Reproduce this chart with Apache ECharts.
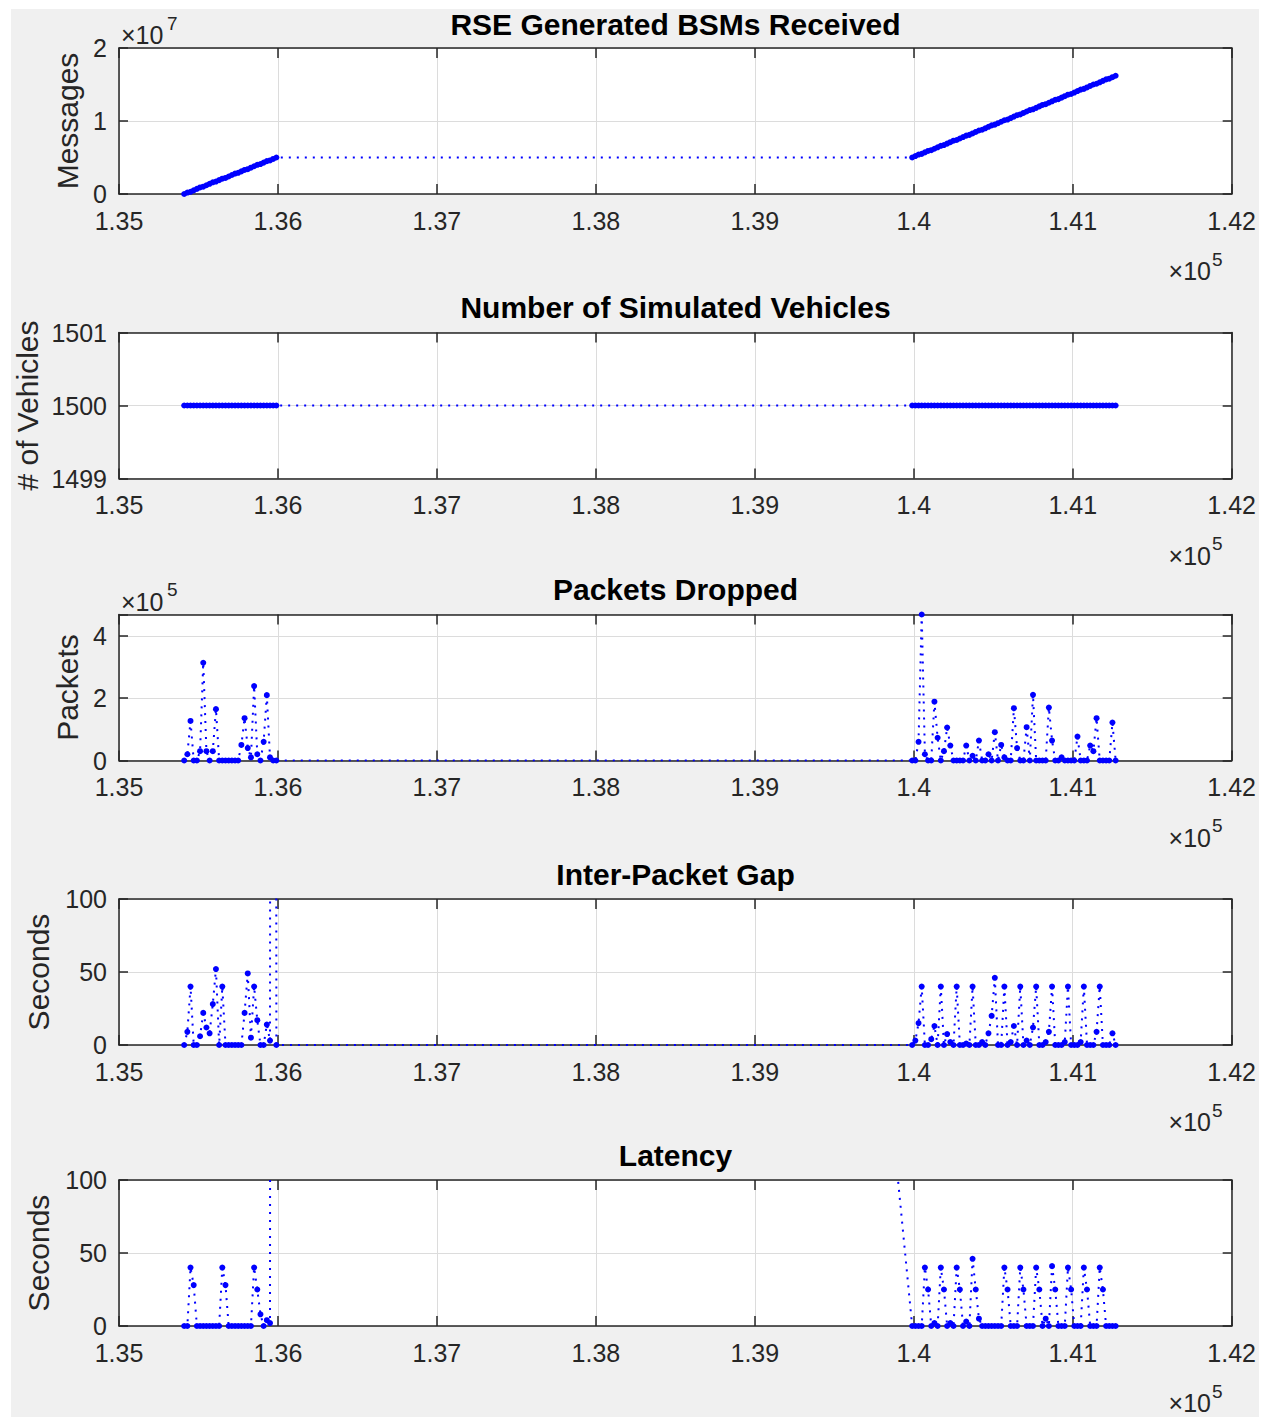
<!DOCTYPE html>
<html><head><meta charset="utf-8">
<script src="https://cdn.jsdelivr.net/npm/echarts@6/dist/echarts.min.js"></script>
<style>
html,body{margin:0;padding:0;background:#fff;width:1270px;height:1418px;overflow:hidden}
#chart{position:absolute;left:11px;top:9px;width:1248px;height:1408px}
</style></head><body><div id="chart"></div>
<script>
// ---- DATA ----
// time stamps (s) of the first and second run
const timesA = [135410,135430,135450,135470,135490,135510,135530,135550,135570,135590,135610,135630,135650,135670,135690,135710,135730,135750,135770,135790,135810,135830,135850,135870,135890,135910,135930,135950,135970,135990];
const timesB = [139990,140010,140030,140050,140070,140090,140110,140130,140150,140170,
  140190,140210,140230,140250,140270,140290,140310,140330,140350,140370,
  140390,140410,140430,140450,140470,140490,140510,140530,140550,140570,
  140590,140610,140630,140650,140670,140690,140710,140730,140750,140770,
  140790,140810,140830,140850,140870,140890,140910,140930,140950,140970,
  140990,141010,141030,141050,141070,141090,141110,141130,141150,141170,
  141190,141210,141230,141250,141270];

// RSE generated BSMs received (x 10^7 messages)
const bsmA = [0.00,0.02,0.03,0.05,0.07,0.09,0.10,0.12,0.14,0.16,0.17,0.19,0.21,0.22,0.24,0.26,0.28,0.29,0.31,0.33,0.34,0.36,0.38,0.40,0.41,0.43,0.45,0.46,0.48,0.50];
const bsmB = [0.50,0.52,0.54,0.55,0.57,0.59,0.60,0.62,0.64,0.66,
  0.67,0.69,0.71,0.73,0.74,0.76,0.78,0.80,0.81,0.83,
  0.85,0.87,0.88,0.90,0.92,0.94,0.95,0.97,0.99,1.01,
  1.02,1.04,1.06,1.08,1.09,1.11,1.13,1.15,1.16,1.18,
  1.20,1.22,1.23,1.25,1.27,1.29,1.30,1.32,1.34,1.36,
  1.37,1.39,1.41,1.43,1.44,1.46,1.48,1.50,1.51,1.53,
  1.55,1.57,1.58,1.60,1.62];

// number of simulated vehicles
const vehiclesA = [1500,1500,1500,1500,1500,1500,1500,1500,1500,1500,1500,1500,1500,1500,1500,1500,1500,1500,1500,1500,1500,1500,1500,1500,1500,1500,1500,1500,1500,1500];
const vehiclesB = [1500,1500,1500,1500,1500,1500,1500,1500,1500,1500,
  1500,1500,1500,1500,1500,1500,1500,1500,1500,1500,
  1500,1500,1500,1500,1500,1500,1500,1500,1500,1500,
  1500,1500,1500,1500,1500,1500,1500,1500,1500,1500,
  1500,1500,1500,1500,1500,1500,1500,1500,1500,1500,
  1500,1500,1500,1500,1500,1500,1500,1500,1500,1500,
  1500,1500,1500,1500,1500];

// packets dropped (x 10^5 packets)
const droppedA = [0,0.2,1.27,0,0,0.3,3.14,0.3,0,0.3,1.65,0,0,0,0,0,0,0,0.5,1.36,0.4,0.1,2.39,0.2,0,0.6,2.1,0.1,0,0];
const droppedB = [0,0,0.6,4.69,0.2,0,0,1.89,0.73,0,
  0.3,1.06,0.48,0,0,0,0,0.48,0,0.15,
  0,0.64,0,0,0.2,0,0.91,0,0.5,0.1,
  0,0,1.68,0.4,0,0,1.07,0,2.11,0,
  0,0,0,1.7,0.64,0,0,0.1,0,0,
  0,0,0.77,0,0,0,0.48,0.3,1.36,0,
  0,0,0,1.22,0];

// inter-packet gap (s)
const gapA = [0,9,40,0,0,6,22,12,8,28,52,0,40,0,0,0,0,0,0,22,49,5,40,17,0,0,14,3,4000,0];
const gapB = [0,3,15,40,0,0,4,13,0,40,
  0,7.5,2,0,40,0,0,1,0,40,
  0,0,2,0,8,20,46,0,0,40,
  0,2,13,0,40,0,3,0,12,40,
  0,0,2,9,40,0,0,0,2,40,
  0,0,0,2,40,0,0,0,9,40,
  0,0,0,8,0];

// latency (s)
const latencyA = [0,0,40,28,0,0,0,0,0,0,0,0,40,28,0,0,0,0,0,0,0,0,40,25,8,0,4,2,4490,4490];
const latencyB = [0,0,0,0,40,25,0,2,0,40,
  25,0,2,0,40,25,0,3,0,46,
  25,5,0,0,0,0,0,0,0,40,
  25,0,0,0,40,25,0,0,0,40,
  25,0,5,0,41,25,0,0,0,40,
  25,0,0,0,40,25,0,0,0,40,
  25,0,0,0,0];

const titles = ['RSE Generated BSMs Received','Number of Simulated Vehicles','Packets Dropped','Inter-Packet Gap','Latency'];
const yNames = ['Messages','# of Vehicles','Packets','Seconds','Seconds'];
const yMins = [0,1499,0,0,0];
const yMaxs = [2,1501,4.69,100,100];
const yIntervals = [1,1,2,50,50];
const xMin = 135000, xMax = 142000, xInterval = 1000;
const yExponents = ['7', null, '5', null, null];
const xExponent = '5';

// ---- LAYOUT ----
const OX = 11, OY = 9;
const PLOT_LEFT = 119, PLOT_W = 1113, PLOT_H = 146;
const PLOT_TOPS = [48, 332.5, 614.5, 899, 1180];
const YNAME_X = [67, 27, 67, 38, 38];
const FONT = '"Liberation Sans", Arial, Helvetica, sans-serif';
const AX = '#262626';
const BLUE = '#0000ff';

const seriesVals = [[bsmA,bsmB],[vehiclesA,vehiclesB],[droppedA,droppedB],[gapA,gapB],[latencyA,latencyB]];

const grids = [], xAxes = [], yAxes = [], series = [], graphics = [];
function txt(x, y, s, size, opt) {
  opt = opt || {};
  graphics.push({
    type: 'text', x: x - OX, y: y - OY, rotation: opt.rot || 0, z: 100,
    style: { text: s, fill: opt.color || AX, fontSize: size, fontFamily: FONT,
      fontWeight: opt.bold ? 'bold' : 'normal', align: opt.align || 'center', verticalAlign: 'middle' }
  });
}
const xFmt = v => String(Number((v / 1e5).toFixed(2)));

for (let i = 0; i < 5; i++) {
  const top = PLOT_TOPS[i];
  grids.push({ left: PLOT_LEFT - OX, top: top - OY, width: PLOT_W, height: PLOT_H,
    show: true, backgroundColor: '#ffffff', borderWidth: 0 });
  const lineSt = { color: AX, width: 1.5 };
  xAxes.push({ type: 'value', gridIndex: i, min: xMin, max: xMax, interval: xInterval, position: 'bottom',
    axisLine: { show: true, onZero: false, lineStyle: lineSt },
    axisTick: { show: true, inside: true, length: 10, lineStyle: lineSt },
    axisLabel: { show: true, fontSize: 25, color: AX, fontFamily: FONT, margin: 14, formatter: xFmt },
    splitLine: { show: true, lineStyle: { color: '#dcdcdc', width: 1 } } });
  xAxes.push({ type: 'value', gridIndex: i, min: xMin, max: xMax, interval: xInterval, position: 'top',
    axisLine: { show: true, onZero: false, lineStyle: lineSt },
    axisTick: { show: true, inside: true, length: 10, lineStyle: lineSt },
    axisLabel: { show: false }, splitLine: { show: false } });
  const iv = yIntervals[i], mn = yMins[i];
  yAxes.push({ type: 'value', gridIndex: i, min: mn, max: yMaxs[i], interval: iv, position: 'left',
    axisLine: { show: true, onZero: false, lineStyle: lineSt },
    axisTick: { show: true, inside: true, length: 9, lineStyle: lineSt },
    axisLabel: { show: true, fontSize: 25, color: AX, fontFamily: FONT, margin: 12,
      formatter: v => (Math.abs(((v - mn) / iv) - Math.round((v - mn) / iv)) < 1e-6 ? String(v) : '') },
    splitLine: { show: true, lineStyle: { color: '#dcdcdc', width: 1 } } });
  yAxes.push({ type: 'value', gridIndex: i, min: mn, max: yMaxs[i], interval: iv, position: 'right',
    axisLine: { show: true, onZero: false, lineStyle: lineSt },
    axisTick: { show: true, inside: true, length: 9, lineStyle: lineSt },
    axisLabel: { show: false }, splitLine: { show: false } });

  const [A, B] = seriesVals[i];
  const data = timesA.map((t, j) => [t, A[j]]).concat(timesB.map((t, j) => [t, B[j]]));
  series.push({ type: 'line', xAxisIndex: 2 * i, yAxisIndex: 2 * i, data,
    symbol: 'circle', symbolSize: 6, showSymbol: true, clip: true, silent: true, animation: false,
    itemStyle: { color: BLUE }, lineStyle: { color: BLUE, width: 2, type: [2, 6] }, z: 3 });

  // texts
  const ty = i === 0 ? 24.5 : top - 25;
  txt(PLOT_LEFT + PLOT_W / 2, ty, titles[i], 30, { bold: true, color: '#000' });
  txt(YNAME_X[i], top + PLOT_H / 2, yNames[i], 30, { rot: Math.PI / 2 });
  if (yExponents[i]) {
    txt(121, top - 13, '×10', 25, { align: 'left' });
    txt(167, top - 25, yExponents[i], 19, { align: 'left' });
  }
  const bottom = top + PLOT_H;
  txt(1211, bottom + 77, '×10', 25, { align: 'right' });
  txt(1212, bottom + 65, xExponent, 19, { align: 'left' });
}

const chart = echarts.init(document.getElementById('chart'), null, { renderer: 'svg' });
chart.setOption({
  backgroundColor: '#f0f0f0',
  animation: false,
  textStyle: { fontFamily: FONT },
  grid: grids, xAxis: xAxes, yAxis: yAxes, series, graphic: graphics
});
</script></body></html>
